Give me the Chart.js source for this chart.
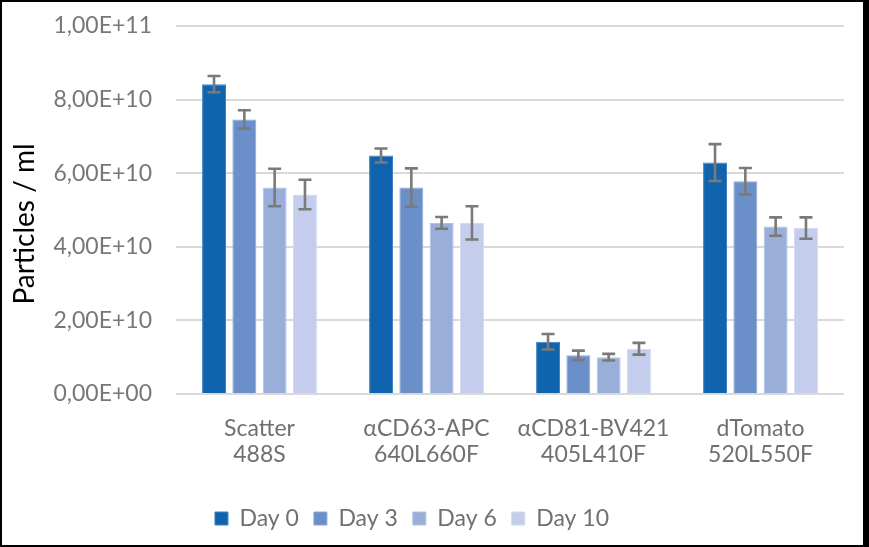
<!DOCTYPE html>
<html>
<head>
<meta charset="utf-8">
<script src="https://cdn.jsdelivr.net/npm/chart.js@4.4.0/dist/chart.umd.min.js"></script>
<style>
  html, body { margin: 0; padding: 0; background: #fff; }
  #wrap { position: relative; width: 869px; height: 547px; }
  #c { position: absolute; left: 0; top: 0; }
  #frame { position: absolute; left: 0; top: 0; width: 869px; height: 547px; box-sizing: border-box;
           border-style: solid; border-color: #000; border-width: 2px 6px 2px 2px; pointer-events: none; }
</style>
</head>
<body>
<div id="wrap">
  <canvas id="c" width="869" height="547"></canvas>
  <div id="frame"></div>
</div>
<script>
const categories = [["Scatter", "488S"], ["\u03b1CD63-APC", "640L660F"], ["\u03b1CD81-BV421", "405L410F"], ["dTomato", "520L550F"]];
const seriesNames = ["Day 0", "Day 3", "Day 6", "Day 10"];
const day0 = [8.42e10, 6.48e10, 1.42e10, 6.29e10];
const day3 = [7.46e10, 5.61e10, 1.05e10, 5.78e10];
const day6 = [5.61e10, 4.65e10, 1.00e10, 4.55e10];
const day10 = [5.42e10, 4.65e10, 1.23e10, 4.51e10];
const err0 = [2.2e9, 1.9e9, 2.1e9, 5.0e9];
const err3 = [2.5e9, 5.2e9, 1.3e9, 3.6e9];
const err6 = [5.1e9, 1.6e9, 0.9e9, 2.5e9];
const err10 = [4.0e9, 4.5e9, 1.6e9, 2.9e9];
const yTicks = [0, 2e10, 4e10, 6e10, 8e10, 1e11];
const yTitle = "Particles / ml";

const colors = ["#1064ae", "#6b8fc8", "#99afda", "#c4cdeb"];
const borders = ["#3f82c2", "#8aa6d4", "#b0c2e3", "#d3daf0"];
const values = [day0, day3, day6, day10];
const errors = [err0, err3, err6, err10];

function fmt(v) {
  if (v === 0) return "0,00E+00";
  const e = Math.floor(Math.log10(v) + 1e-9);
  const m = v / Math.pow(10, e);
  return m.toFixed(2).replace(".", ",") + "E+" + String(e).padStart(2, "0");
}

const FONT = "Lato";

const errorBars = {
  id: "errorBars",
  afterDatasetsDraw(chart) {
    const ctx = chart.ctx;
    const y = chart.scales.y;
    ctx.save();
    ctx.strokeStyle = "#7a7a7a";
    ctx.lineWidth = 2.6;
    ctx.lineCap = "butt";
    chart.data.datasets.forEach((ds, i) => {
      const meta = chart.getDatasetMeta(i);
      meta.data.forEach((bar, j) => {
        const v = ds.data[j], e = ds.errors[j];
        const yt = y.getPixelForValue(v + e), yb = y.getPixelForValue(v - e);
        const x = bar.x, w = 6.5;
        ctx.beginPath();
        ctx.moveTo(x, yt); ctx.lineTo(x, yb);
        ctx.moveTo(x - w, yt); ctx.lineTo(x + w, yt);
        ctx.moveTo(x - w, yb); ctx.lineTo(x + w, yb);
        ctx.stroke();
      });
    });
    ctx.restore();
  }
};

const yTitlePlugin = {
  id: "yTitlePlugin",
  afterDraw(chart) {
    const ctx = chart.ctx;
    ctx.save();
    ctx.translate(25, 224);
    ctx.rotate(-Math.PI / 2);
    ctx.font = "28px " + FONT;
    ctx.fillStyle = "#000";
    ctx.textAlign = "center";
    ctx.textBaseline = "middle";
    ctx.fillText(yTitle, 0, 0);
    ctx.restore();
  }
};

const legendShift = {
  id: "legendShift",
  afterLayout(chart) {
    const l = chart.legend;
    if (l) { l.left -= 10; l.right -= 10; }
  }
};

new Chart(document.getElementById("c"), {
  type: "bar",
  data: {
    labels: categories,
    datasets: seriesNames.map((n, i) => ({
      label: n,
      data: values[i],
      errors: errors[i],
      backgroundColor: colors[i],
      borderColor: borders[i],
      borderWidth: 1,
      categoryPercentage: 0.726,
      barPercentage: 0.79
    }))
  },
  options: {
    responsive: false,
    animation: false,
    devicePixelRatio: 1,
    layout: { padding: { left: 0, right: 25, top: 26, bottom: 7 } },
    plugins: {
      tooltip: { enabled: false },
      legend: {
        position: "bottom",
        labels: {
          boxWidth: 13, boxHeight: 13, padding: 15,
          color: "#707070",
          font: { family: FONT, size: 23 }
        }
      }
    },
    scales: {
      x: {
        grid: { display: false },
        border: { display: false },
        ticks: {
          color: "#707070",
          padding: 13,
          maxRotation: 0,
          font: { family: FONT, size: 23, lineHeight: 1.15 }
        },
        afterFit(s) { s.height = 98; }
      },
      y: {
        min: 0, max: 1e11,
        afterBuildTicks(s) { s.ticks = yTicks.map(v => ({ value: v })); },
        grid: { color: "#d9d9d9", lineWidth: 2, drawTicks: false },
        border: { display: false },
        ticks: {
          color: "#777777",
          padding: 24,
          font: { family: FONT, size: 23 },
          callback: (v) => fmt(v)
        },
        afterFit(s) { s.width = 176; s.paddingTop = 0; s.paddingBottom = 0; }
      }
    }
  },
  plugins: [errorBars, yTitlePlugin, legendShift]
});
</script>
</body>
</html>
